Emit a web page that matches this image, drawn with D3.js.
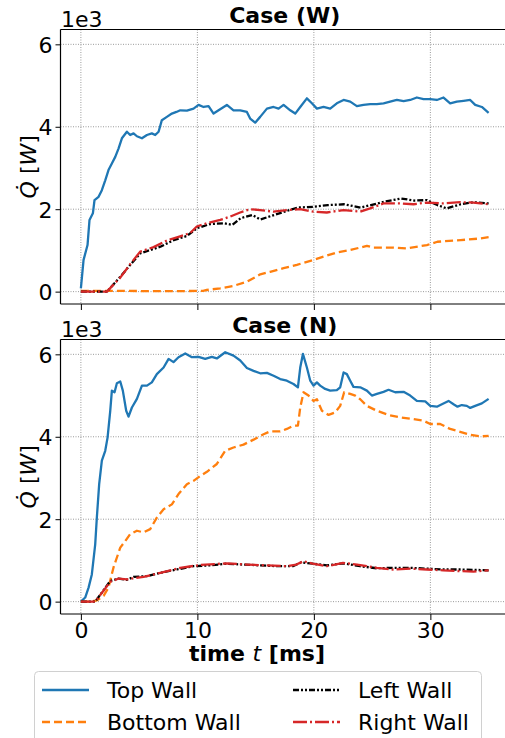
<!DOCTYPE html>
<html lang="en">
<head>
<meta charset="utf-8">
<title>Heat flux per wall</title>
<script src="https://d3js.org/d3.v7.min.js"></script>
<style>
    body { margin: 0; background: white; }
    text { font-family: "DejaVu Sans", sans-serif; fill: black; }
    .grid line { stroke: #9a9a9a; stroke-width: 1; stroke-dasharray: 1,1.5; }
    .series { fill: none; stroke-width: 2.3; stroke-linejoin: round; }
</style>
</head>
<body>
<script>
// data: [t in ms, Q in 1e3 W]
var topW = [[0,0.08],[0.23,0.77],[0.57,1.13],[0.74,1.74],[1.03,1.9],[1.17,2.22],[1.52,2.3],[1.8,2.46],
    [2.09,2.7],[2.37,2.95],[2.66,3.11],[2.95,3.27],[3.23,3.47],[3.52,3.72],[3.95,3.88],[4.23,3.8],
    [4.52,3.84],[4.81,3.77],[5.24,3.72],[5.67,3.8],[6.09,3.84],[6.38,3.8],[6.67,3.88],[6.95,4.16],
    [7.38,4.24],[7.81,4.32],[8.2,4.36],[8.53,4.4],[9.1,4.39],[9.67,4.44],[10.1,4.53],[10.53,4.48],
    [10.96,4.5],[11.39,4.32],[11.82,4.4],[12.53,4.53],[13.1,4.4],[13.68,4.4],[14.25,4.36],[14.53,4.2],
    [14.96,4.1],[15.39,4.24],[15.97,4.44],[16.54,4.48],[16.97,4.44],[17.4,4.53],[17.97,4.4],[18.4,4.32],
    [18.83,4.48],[19.4,4.69],[19.83,4.57],[20.26,4.44],[20.83,4.48],[21.4,4.44],[21.97,4.57],[22.55,4.65],
    [23.12,4.61],[23.69,4.5],[24.26,4.53],[24.84,4.55],[25.4,4.55],[25.98,4.57],[26.55,4.61],[27.12,4.65],
    [27.7,4.62],[28.27,4.65],[28.84,4.71],[29.41,4.67],[29.99,4.67],[30.56,4.65],[31.13,4.71],[31.7,4.57],
    [32.27,4.61],[32.85,4.63],[33.42,4.65],[33.85,4.53],[34.42,4.48],[35,4.34]];
var bottomW = [[0,0.02],[2,0.02],[4,0.02],[6,0.01],[8,0.01],[10.5,0.02],[10.8,0.04],[11.96,0.08],
    [13.1,0.14],[14.25,0.24],[15.4,0.42],[16.25,0.48],[17.4,0.57],[18.54,0.65],[19.97,0.77],[20.83,0.85],
    [21.97,0.95],[23.12,1.01],[23.98,1.07],[24.55,1.11],[25.1,1.07],[26.84,1.07],[27.98,1.05],[29.7,1.13],
    [30.6,1.21],[32.6,1.25],[34.28,1.29],[35,1.32]];
var leftW = [[0,0],[2.23,0],[3.38,0.36],[4.24,0.65],[5.1,0.93],[5.96,1.01],[6.82,1.09],[7.97,1.25],
    [9.1,1.35],[9.97,1.54],[11.1,1.64],[12.28,1.66],[13.0,1.62],[13.7,1.78],[14.7,1.86],[15.4,1.75],
    [16.6,1.86],[17.7,1.96],[18.6,2.04],[20,2.06],[21.2,2.1],[22.6,2.12],[24.0,2.04],[24.9,2.1],
    [26.0,2.18],[27.5,2.26],[28.6,2.21],[29.7,2.22],[30.6,2.1],[31.4,2.02],[32.6,2.12],[33.7,2.17],[35,2.14]];
var rightW = [[0,0],[2.23,0],[3.38,0.34],[4.24,0.67],[5.09,0.97],[6.24,1.08],[7.38,1.24],[8.52,1.34],
    [9.38,1.42],[9.95,1.58],[10.81,1.66],[11.96,1.74],[12.81,1.82],[13.67,1.92],[14.53,2.0],[15.39,1.98],
    [16.53,1.94],[17.68,1.98],[18.82,2.0],[19.97,1.94],[21.11,1.92],[22.54,1.98],[23.97,1.94],[24.83,2.02],
    [25.97,2.14],[27.41,2.14],[28.55,2.12],[29.7,2.16],[31.13,2.14],[32.56,2.17],[33.7,2.16],[35,2.12]];

var topN = [[0,0],[0.37,0.1],[0.66,0.34],[0.94,0.66],[1.23,1.39],[1.37,2.04],[1.57,2.85],[1.8,3.42],
    [2.09,3.66],[2.29,3.98],[2.52,4.63],[2.66,5.12],[2.89,5.08],[3.09,5.3],[3.38,5.34],[3.6,5.12],
    [3.89,4.63],[4.09,4.49],[4.38,4.71],[4.81,4.92],[5.24,5.24],[5.67,5.24],[6.09,5.32],[6.52,5.52],
    [7.1,5.68],[7.53,5.89],[7.95,5.81],[8.38,5.93],[8.96,6.02],[9.53,5.93],[10.1,5.94],[10.67,5.89],
    [11.24,5.94],[11.67,5.9],[12.39,6.05],[13.1,5.97],[13.68,5.85],[14.25,5.67],[14.82,5.6],[15.39,5.54],
    [15.97,5.55],[16.54,5.48],[17.11,5.4],[17.68,5.36],[18.25,5.28],[18.63,5.2],[18.83,5.68],[19.06,6.01],
    [19.4,5.68],[19.69,5.36],[19.97,5.24],[20.26,5.32],[20.54,5.24],[20.97,5.16],[21.4,5.12],[21.97,5.13],
    [22.26,5.2],[22.55,5.56],[22.83,5.52],[23.12,5.36],[23.4,5.21],[23.98,5.2],[24.55,5.12],[24.98,5.0],
    [25.41,5.04],[25.98,5.09],[26.41,5.14],[26.98,5.08],[27.7,5.09],[28.27,5.0],[28.84,4.87],[29.56,4.86],
    [29.99,4.75],[30.56,4.73],[30.99,4.79],[31.56,4.87],[31.99,4.79],[32.33,4.73],[32.7,4.77],[33.13,4.75],
    [33.42,4.7],[33.85,4.75],[34.42,4.81],[35,4.92]];
var bottomN = [[0,0],[0.8,0],[1.37,0.03],[1.95,0.14],[2.37,0.34],[2.8,0.83],[3.38,1.31],[3.81,1.47],
    [4.23,1.64],[4.81,1.72],[5.38,1.68],[5.95,1.76],[6.52,2.04],[7.1,2.24],[7.81,2.36],[8.38,2.61],
    [9.1,2.85],[9.67,2.93],[10.24,3.05],[10.82,3.15],[11.67,3.34],[12.39,3.66],[13.1,3.74],[13.96,3.81],
    [14.82,3.93],[15.68,4.06],[16.25,4.13],[17.11,4.13],[17.68,4.19],[18.25,4.27],[18.63,4.27],[18.83,4.71],
    [19.11,5.08],[19.54,5.0],[19.97,4.87],[20.26,4.91],[20.69,4.63],[21.26,4.53],[21.83,4.59],[22.26,4.75],
    [22.6,5.08],[23.12,5.04],[23.55,5.0],[23.98,4.91],[24.55,4.75],[25.41,4.63],[26.41,4.53],[27.41,4.47],
    [28.55,4.43],[29.41,4.39],[29.99,4.31],[30.84,4.31],[31.7,4.19],[32.56,4.12],[33.42,4.05],[34.28,4.01],[35,4.02]];
var leftN = [[0,0],[1.23,0],[2.52,0.5],[3.23,0.56],[3.95,0.53],[4.52,0.6],[5.67,0.62],[6.82,0.7],
    [8.24,0.78],[9.67,0.86],[11.1,0.88],[12.5,0.92],[13.95,0.9],[15.4,0.88],[16.8,0.86],[18.2,0.86],
    [18.9,0.95],[19.9,0.92],[21.1,0.88],[22.5,0.93],[23.97,0.86],[25.4,0.81],[26.8,0.82],[28.3,0.82],
    [29.7,0.8],[31.1,0.78],[32.6,0.78],[35,0.76]];
var rightN = [[0,0],[1.23,0],[2.52,0.48],[3.23,0.56],[3.95,0.54],[5.38,0.6],[6.82,0.7],[8.52,0.82],
    [10.24,0.89],[12.5,0.93],[14.24,0.9],[15.9,0.88],[17.68,0.86],[18.5,0.9],[19.1,0.98],[19.9,0.92],
    [21.1,0.86],[22.5,0.94],[23.7,0.9],[25.4,0.82],[26.8,0.78],[28.3,0.8],[29.7,0.78],[31.1,0.76],
    [32.6,0.74],[33.7,0.73],[35,0.76]];

var xTicks = [0, 10, 20, 30];
var yTicks = [0, 2, 4, 6];
var seriesNames = ["Top Wall", "Bottom Wall", "Left Wall", "Right Wall"];
var colors = ["#1f77b4", "#ff7f0e", "#000000", "#d62728"];
var dashes = ["none", "8,4", "6,2,2,2,2,2", "14,3,2,3"];

var panels = [
    { title: "Case (W)", top: 29.5, data: [topW, bottomW, leftW, rightW], labels: false },
    { title: "Case (N)", top: 339.5, data: [topN, bottomN, leftN, rightN], labels: true }
];

var width = 505, height = 738;
var left = 60.5, right = 509, panelH = 274.5;

var svg = d3.select("body").append("svg")
    .attr("width", width)
    .attr("height", height);

var x = d3.scaleLinear().domain([-1.75, 36.75]).range([left, right]);

panels.forEach(function(p) {
    var y = d3.scaleLinear().domain([-0.3, 6.36]).range([p.top + panelH, p.top]);
    var g = svg.append("g");

    // grid
    var grid = g.append("g").attr("class", "grid");
    grid.selectAll(".gx").data(xTicks).enter().append("line")
        .attr("x1", d => x(d)).attr("x2", d => x(d))
        .attr("y1", p.top).attr("y2", p.top + panelH);
    grid.selectAll(".gy").data(yTicks).enter().append("line")
        .attr("x1", left).attr("x2", right)
        .attr("y1", d => y(d)).attr("y2", d => y(d));

    // lines
    var clipId = "clip" + p.title.replace(/\W/g, "");
    svg.append("clipPath").attr("id", clipId).append("rect")
        .attr("x", left).attr("y", p.top).attr("width", right - left).attr("height", panelH);

    var line = d3.line().x(d => x(d[0])).y(d => y(d[1]));
    g.append("g").attr("clip-path", "url(#" + clipId + ")")
        .selectAll("path").data(p.data).enter().append("path")
        .attr("class", "series")
        .attr("d", line)
        .attr("stroke", (d, i) => colors[i])
        .attr("stroke-dasharray", (d, i) => dashes[i]);

    // axes
    var xAxis = d3.axisBottom(x).tickValues(xTicks).tickSize(6).tickPadding(1)
        .tickFormat(p.labels ? d3.format("d") : "");
    var gx = g.append("g").attr("transform", "translate(0," + (p.top + panelH) + ")").call(xAxis);
    var yAxis = d3.axisLeft(y).tickValues(yTicks).tickSize(5).tickPadding(3).tickFormat(d3.format("d"));
    var gy = g.append("g").attr("transform", "translate(" + left + ",0)").call(yAxis);
    [gx, gy].forEach(function(a) {
        a.select(".domain").remove();
        a.selectAll("text").style("font-size", "22px").attr("fill", "black");
        a.selectAll(".tick line").attr("stroke", "black").attr("stroke-width", 1);
    });
    gx.selectAll("text").attr("dy", "0.78em");
    gy.selectAll("text").attr("dy", "0.36em");

    // spines
    g.append("line").attr("x1", left).attr("x2", left).attr("y1", p.top).attr("y2", p.top + panelH)
        .attr("stroke", "black").attr("stroke-width", 1.2);
    g.append("line").attr("x1", left).attr("x2", right).attr("y1", p.top).attr("y2", p.top)
        .attr("stroke", "black").attr("stroke-width", 1);
    g.append("line").attr("x1", left).attr("x2", right).attr("y1", p.top + panelH).attr("y2", p.top + panelH)
        .attr("stroke", "black").attr("stroke-width", 1);
    g.append("line").attr("x1", right).attr("x2", right).attr("y1", p.top).attr("y2", p.top + panelH)
        .attr("stroke", "black").attr("stroke-width", 1);

    // title, offset text, y label
    g.append("text").attr("x", (left + right) / 2).attr("y", p.top - 6.5)
        .attr("text-anchor", "middle").style("font-size", "22px").style("font-weight", "bold")
        .text(p.title);
    g.append("text").attr("x", 61).attr("y", p.top - 2.5).style("font-size", "22px").text("1e3");

    var yl = g.append("text")
        .attr("transform", "translate(36," + (p.top + panelH / 2) + ") rotate(-90)")
        .attr("text-anchor", "middle").style("font-size", "22px");
    yl.append("tspan").style("font-style", "italic").text("Q\u0307");
    yl.append("tspan").text(" [");
    yl.append("tspan").style("font-style", "italic").text("W");
    yl.append("tspan").text("]");
});

// x label
var xl = svg.append("text").attr("x", 257).attr("y", 661)
    .attr("text-anchor", "middle").style("font-size", "22px").style("font-weight", "bold");
xl.append("tspan").text("time ");
xl.append("tspan").style("font-style", "italic").style("font-weight", "normal").text("t");
xl.append("tspan").text(" [ms]");

// legend
var lg = svg.append("g");
lg.append("rect").attr("x", 34.5).attr("y", 671.5).attr("width", 447).attr("height", 80)
    .attr("rx", 4).attr("fill", "white").attr("stroke", "#d0d0d0").attr("stroke-width", 1);

var legendPos = [
    { hx: 42, tx: 107, y: 690 },
    { hx: 42, tx: 107, y: 722 },
    { hx: 293, tx: 358, y: 690 },
    { hx: 293, tx: 358, y: 722 }
];
var items = lg.selectAll(".item").data(seriesNames).enter().append("g");
items.append("line")
    .attr("x1", (d, i) => legendPos[i].hx).attr("x2", (d, i) => legendPos[i].hx + 47)
    .attr("y1", (d, i) => legendPos[i].y).attr("y2", (d, i) => legendPos[i].y)
    .attr("stroke", (d, i) => colors[i]).attr("stroke-width", 2.3)
    .attr("stroke-dasharray", (d, i) => dashes[i]);
items.append("text")
    .attr("x", (d, i) => legendPos[i].tx).attr("y", (d, i) => legendPos[i].y)
    .attr("dy", "0.36em").style("font-size", "22px")
    .text(d => d);
</script>
</body>
</html>
